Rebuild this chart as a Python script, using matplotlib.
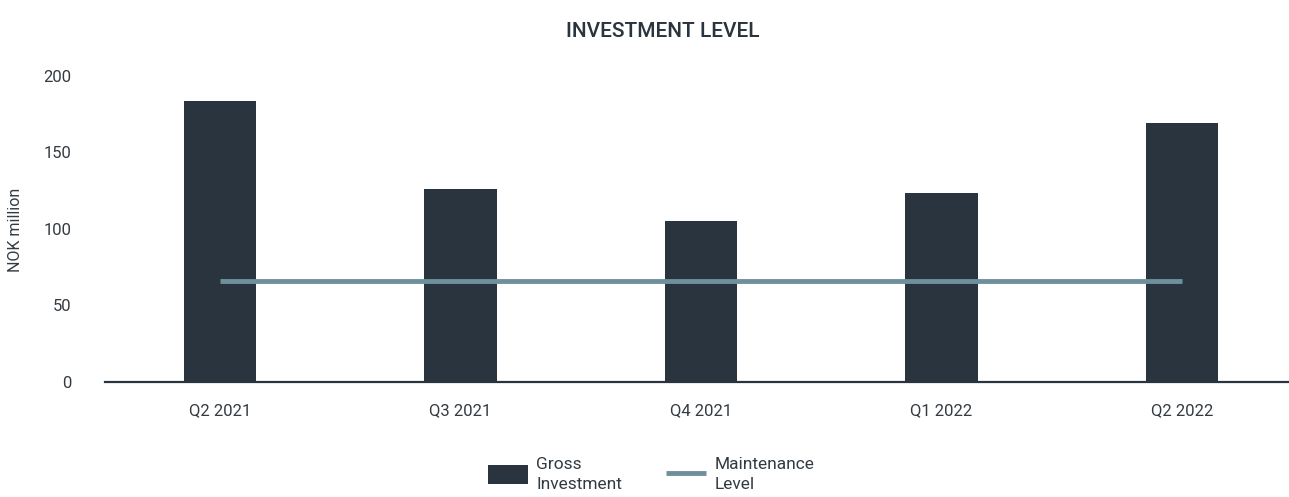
import matplotlib
matplotlib.use("Agg")
import matplotlib.pyplot as plt
import numpy as np

quarters = ["Q2 2021", "Q3 2021", "Q4 2021", "Q1 2022", "Q2 2022"]
gross_investment = [183.5, 126, 105, 123.5, 169]
maintenance_level = [66, 66, 66, 66, 66]

BAR_COLOR = "#29343e"
LINE_COLOR = "#6e909d"
TEXT_COLOR = "#333b42"

plt.rcParams["font.family"] = ["Roboto", "DejaVu Sans"]

fig = plt.figure(figsize=(12.89, 4.97), dpi=100)
ax = fig.add_axes([0.0815, 0.2314, 0.9185, 0.6157])

x = np.arange(len(quarters))
bars = ax.bar(x, gross_investment, width=0.30, color=BAR_COLOR,
              label="Gross\nInvestment", zorder=2)
line, = ax.plot(x, maintenance_level, color=LINE_COLOR, lw=3.5, solid_capstyle="butt",
                label="Maintenance\nLevel", zorder=3)

ax.set_xlim(-0.478, 4.445)
ax.set_ylim(0, 200)
ax.set_yticks([0, 50, 100, 150, 200])
ax.set_xticks(x)
ax.set_xticklabels(quarters)
ax.tick_params(length=0, labelsize=12, colors=TEXT_COLOR)
ax.tick_params(axis="y", pad=24)
ax.tick_params(axis="x", pad=15)

for side in ["top", "right", "left"]:
    ax.spines[side].set_visible(False)
ax.spines["bottom"].set_color(BAR_COLOR)
ax.spines["bottom"].set_linewidth(1.6)

fig.text(0.012, 0.537, "NOK million", rotation=90, ha="center", va="center",
         fontsize=11.5, color=TEXT_COLOR)
fig.text(0.514, 0.937, "INVESTMENT LEVEL", ha="center", va="center",
         fontsize=15, color=BAR_COLOR, fontweight="medium")

leg = fig.legend([bars, line], ["Gross\nInvestment", "Maintenance\nLevel"],
                 loc="center", bbox_to_anchor=(0.505, 0.045), ncol=2, frameon=False,
                 fontsize=12.5, labelcolor=TEXT_COLOR, handlelength=2.3, handleheight=1.3,
                 columnspacing=2.5, handletextpad=0.5)
for t in leg.get_texts():
    t.set_linespacing(1.45)

fig.savefig("out.png", dpi=100)
